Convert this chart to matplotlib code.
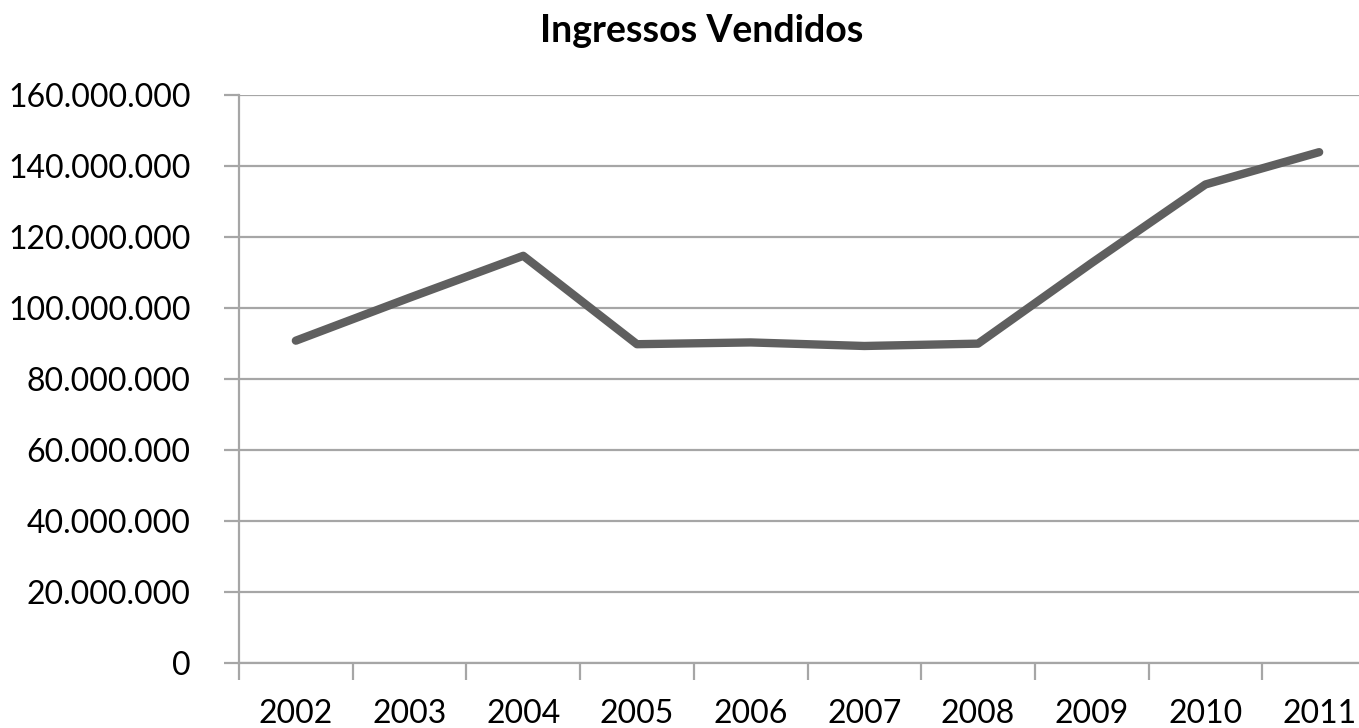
import matplotlib
matplotlib.use("Agg")
import matplotlib.pyplot as plt
from matplotlib.ticker import FuncFormatter, FixedLocator

years = ["2002", "2003", "2004", "2005", "2006", "2007", "2008", "2009", "2010", "2011"]
tickets = [90.8e6, 102.9e6, 114.7e6, 89.8e6, 90.3e6, 89.3e6, 89.96e6, 112.7e6, 134.8e6, 143.9e6]
title = "Ingressos Vendidos"

plt.rcParams['font.family'] = ['Lato', 'DejaVu Sans']

fig = plt.figure(figsize=(13.59, 7.28), dpi=100)
ax = fig.add_axes([239/1359, 1-663/728, 1137/1359, 568/728])

x = list(range(len(years)))
ax.plot(x, tickets, color="#5f5f5f", linewidth=6, solid_capstyle="round",
        solid_joinstyle="round", zorder=3)

ax.set_xlim(-0.5, len(years) - 0.5)
ax.set_ylim(0, 160e6)
ax.set_yticks([i * 20e6 for i in range(9)])
ax.yaxis.set_major_formatter(FuncFormatter(lambda v, p: f"{int(v):,}".replace(",", ".")))
ax.grid(axis="y", color="#a6a6a6", linewidth=1.6, zorder=1)
ax.set_axisbelow(True)

ax.set_xticks(x)
ax.set_xticklabels(years)
ax.xaxis.set_minor_locator(FixedLocator([i - 0.5 for i in range(len(years) + 1)]))
ax.tick_params(axis="x", which="major", length=0, pad=26, labelsize=23, labelcolor="#000000")
ax.tick_params(axis="x", which="minor", length=12, width=1.6, color="#a6a6a6", direction="out")
ax.tick_params(axis="y", length=11, width=1.6, color="#a6a6a6", pad=24, labelsize=23, labelcolor="#000000")

for s in ["top", "right"]:
    ax.spines[s].set_visible(False)
for s in ["left", "bottom"]:
    ax.spines[s].set_color("#a6a6a6")
    ax.spines[s].set_linewidth(1.6)

fig.text(702/1359, 1-31/728, title, ha="center", va="center", fontsize=27, fontweight="bold")

fig.savefig("out.png", dpi=100)
